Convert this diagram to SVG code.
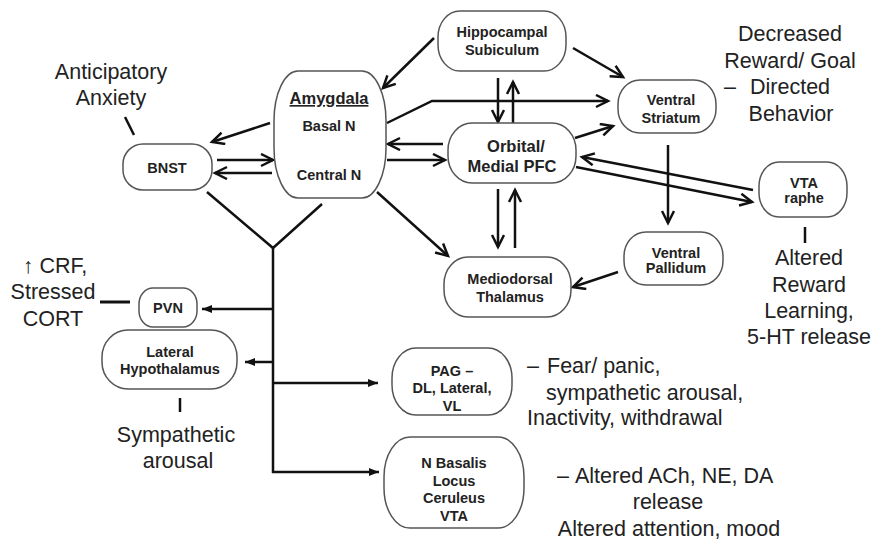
<svg xmlns="http://www.w3.org/2000/svg" width="874" height="540" viewBox="0 0 874 540">
<defs>
<style>
.node{fill:#fff;stroke:#555;stroke-width:1.5}
.nl{font-family:"Liberation Sans",Arial,sans-serif;font-weight:bold;font-size:14.5px;fill:#222;text-anchor:middle}
.lg{font-size:16.5px}
.big{font-family:"Liberation Sans",Arial,sans-serif;font-size:21.5px;fill:#222}
.c{text-anchor:middle}
.ln{stroke:#111;stroke-width:2.5;fill:none}
.a{marker-end:url(#ah)}
.f{marker-end:url(#fh)}
</style>
<marker id="ah" markerUnits="userSpaceOnUse" markerWidth="16" markerHeight="16" viewBox="0 0 16 16" refX="13" refY="7" orient="auto">
<path d="M1,1 L13,7 L1,13" fill="none" stroke="#111" stroke-width="2.5"/>
</marker>
<marker id="fh" markerUnits="userSpaceOnUse" markerWidth="12" markerHeight="10" viewBox="0 0 12 10" refX="10" refY="5" orient="auto">
<path d="M0,1 L10,5 L0,9 z" fill="#111"/>
</marker>
</defs>
<rect width="874" height="540" fill="#fff"/>

<g id="connectors">
<line class="ln a" x1="434" y1="38" x2="383" y2="88"/>
<line class="ln a" x1="573" y1="48" x2="623" y2="77"/>
<line class="ln a" x1="498" y1="78" x2="498" y2="122"/>
<line class="ln a" x1="513" y1="123" x2="513" y2="82"/>
<polyline class="ln a" points="387,123 432,101 608,101"/>
<line class="ln a" x1="443" y1="144" x2="388" y2="144"/>
<line class="ln a" x1="387" y1="160" x2="445" y2="160"/>
<line class="ln a" x1="270" y1="123" x2="212" y2="142"/>
<line class="ln a" x1="217" y1="160" x2="273" y2="160"/>
<line class="ln a" x1="272" y1="173" x2="215" y2="173"/>
<line class="ln a" x1="325" y1="135" x2="325" y2="163"/>
<line class="ln a" x1="377" y1="192" x2="448" y2="256"/>
<line class="ln a" x1="575" y1="138" x2="613" y2="126"/>
<line class="ln a" x1="753" y1="190" x2="582" y2="157"/>
<line class="ln a" x1="576" y1="167" x2="752" y2="202"/>
<line class="ln a" x1="668" y1="145" x2="668" y2="223"/>
<line class="ln a" x1="498" y1="189" x2="498" y2="247"/>
<line class="ln a" x1="515" y1="248" x2="515" y2="190"/>
<line class="ln a" x1="618" y1="272" x2="573" y2="287"/>
<polyline class="ln" points="207,192 273,248 322,204"/>
<line class="ln" x1="273" y1="248" x2="273" y2="473"/>
<line class="ln f" x1="273" y1="309" x2="202" y2="309"/>
<line class="ln f" x1="273" y1="362" x2="245" y2="362"/>
<line class="ln f" x1="273" y1="383" x2="378" y2="383"/>
<line class="ln f" x1="272" y1="472" x2="379" y2="472"/>
<line class="ln" x1="125" y1="117" x2="134" y2="135"/>
<line class="ln" x1="805" y1="227" x2="805" y2="243"/>
<line class="ln" style="stroke-width:3" x1="100" y1="302" x2="130" y2="302"/>
<line class="ln" x1="180" y1="398" x2="180" y2="412"/>
</g>

<g id="amygdala">
<rect class="node" x="274" y="71" width="112" height="127" rx="24" ry="50"/>
<text class="nl lg" x="329" y="104" text-decoration="underline">Amygdala</text>
<text class="nl" x="329" y="131">Basal N</text>
<text class="nl" x="329" y="180">Central N</text>
</g>
<g id="bnst">
<rect class="node" x="123" y="144" width="89" height="46" rx="20" ry="20"/>
<text class="nl" x="167" y="173">BNST</text>
</g>
<g id="hippocampal">
<rect class="node" x="438" y="11" width="128" height="60" rx="22" ry="26"/>
<text class="nl" x="502" y="37">Hippocampal</text>
<text class="nl" x="502" y="55">Subiculum</text>
</g>
<g id="ventral-striatum">
<rect class="node" x="618" y="80" width="98" height="53" rx="22" ry="24"/>
<text class="nl" x="671" y="105">Ventral</text>
<text class="nl" x="671" y="123">Striatum</text>
</g>
<g id="pfc">
<rect class="node" x="448" y="123" width="128" height="60" rx="24" ry="27"/>
<text class="nl lg" x="516" y="152">Orbital/</text>
<text class="nl lg" x="512" y="172">Medial PFC</text>
</g>
<g id="vta-raphe">
<rect class="node" x="759" y="162" width="88" height="55" rx="20" ry="24"/>
<text class="nl" x="804" y="188">VTA</text>
<text class="nl" x="804" y="203">raphe</text>
</g>
<g id="ventral-pallidum">
<rect class="node" x="624" y="232" width="99" height="53" rx="22" ry="24"/>
<text class="nl" x="676" y="258">Ventral</text>
<text class="nl" x="676" y="273">Pallidum</text>
</g>
<g id="mediodorsal-thalamus">
<rect class="node" x="444" y="257" width="127" height="60" rx="24" ry="27"/>
<text class="nl" x="510" y="284">Mediodorsal</text>
<text class="nl" x="510" y="302">Thalamus</text>
</g>
<g id="pag">
<rect class="node" x="392" y="348" width="120" height="67" rx="24" ry="30"/>
<text class="nl" x="452" y="376">PAG –</text>
<text class="nl" x="452" y="393">DL, Lateral,</text>
<text class="nl" x="452" y="411">VL</text>
</g>
<g id="n-basalis">
<rect class="node" x="384" y="437" width="140" height="91" rx="26" ry="40"/>
<text class="nl" x="454" y="468">N Basalis</text>
<text class="nl" x="454" y="486">Locus</text>
<text class="nl" x="454" y="503">Ceruleus</text>
<text class="nl" x="454" y="521">VTA</text>
</g>
<g id="pvn">
<rect class="node" x="139" y="288" width="58" height="39" rx="14" ry="16"/>
<text class="nl" x="168" y="313">PVN</text>
</g>
<g id="lateral-hypothalamus">
<rect class="node" x="102" y="330" width="135" height="59" rx="26" ry="27"/>
<text class="nl" x="170" y="357">Lateral</text>
<text class="nl" x="170" y="374">Hypothalamus</text>
</g>

<g id="labels">
<text class="big c" x="111" y="79">Anticipatory</text>
<text class="big c" x="111" y="105">Anxiety</text>
<text class="big c" x="790" y="41">Decreased</text>
<text class="big c" x="790" y="68">Reward/ Goal</text>
<text class="big" x="724" y="94">–<tspan x="750">Directed</tspan></text>
<text class="big c" x="791" y="121">Behavior</text>
<text class="big c" x="809" y="265">Altered</text>
<text class="big c" x="809" y="292">Reward</text>
<text class="big c" x="809" y="318">Learning,</text>
<text class="big c" x="809" y="344">5-HT release</text>
<text class="big c" x="55" y="273">↑ CRF,</text>
<text class="big c" x="53" y="299">Stressed</text>
<text class="big c" x="53" y="326">CORT</text>
<text class="big c" x="176" y="442">Sympathetic</text>
<text class="big c" x="178" y="468">arousal</text>
<text class="big" x="527" y="373">–<tspan x="547">Fear/ panic,</tspan></text>
<text class="big" x="546" y="400">sympathetic arousal,</text>
<text class="big" x="527" y="425">Inactivity, withdrawal</text>
<text class="big" x="557" y="483">–<tspan x="575">Altered ACh, NE, DA</tspan></text>
<text class="big c" x="668" y="509">release</text>
<text class="big c" x="669" y="536">Altered attention, mood</text>
</g>
</svg>
